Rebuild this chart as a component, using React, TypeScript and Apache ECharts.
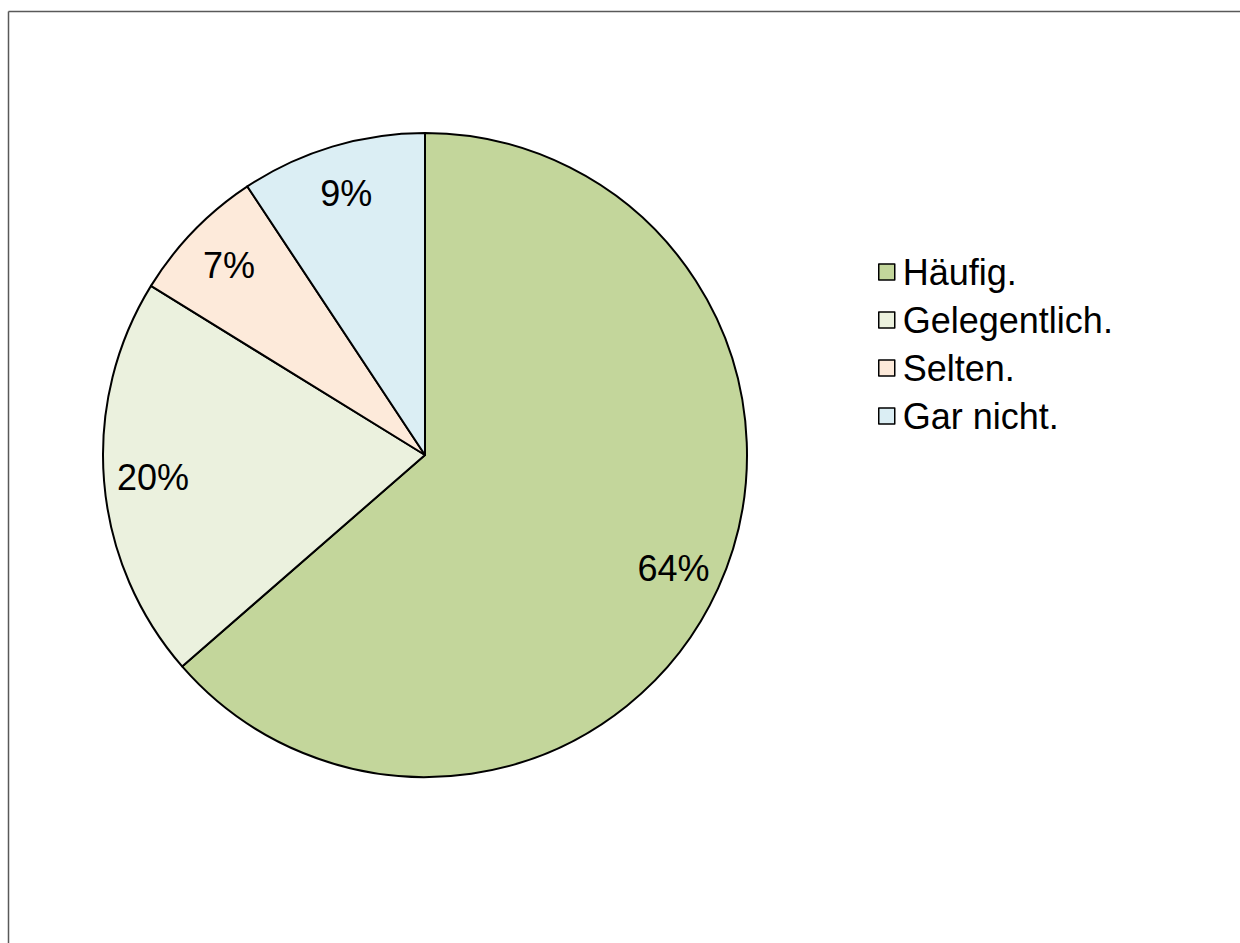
import React, { useEffect, useRef } from "react";
import * as echarts from "echarts";

const categories = ["Häufig.", "Gelegentlich.", "Selten.", "Gar nicht."];
const values = [63.6, 20.2, 6.9, 9.3];
const colors = ["#C3D69B", "#EBF1DE", "#FDEADA", "#DBEEF4"];

const FONT = '"Liberation Sans", Arial, sans-serif';

export default function App() {
  const ref = useRef<HTMLDivElement>(null);
  useEffect(() => {
    document.body.style.margin = "0";
    if (!ref.current) return;
    const chart = echarts.init(ref.current, null, { renderer: "svg" });
    const data = categories.map((name, i) => ({
      name,
      value: values[i],
      itemStyle: { color: colors[i] },
    }));
    const total = values.reduce((a, b) => a + b, 0);
    chart.setOption({
      animation: false,
      backgroundColor: "#ffffff",
      graphic: [
        {
          type: "line",
          shape: { x1: 8.5, y1: 11.5, x2: 1240, y2: 11.5 },
          style: { stroke: "#595959", lineWidth: 1.5 },
          silent: true,
        },
        {
          type: "line",
          shape: { x1: 8.5, y1: 11.5, x2: 8.5, y2: 943 },
          style: { stroke: "#595959", lineWidth: 1.5 },
          silent: true,
        },
      ],
      legend: {
        orient: "vertical",
        left: 873,
        top: 249,
        icon: "rect",
        itemWidth: 16,
        itemHeight: 16,
        itemGap: 12,
        data: categories,
        itemStyle: { borderColor: "#000", borderWidth: 1.5 },
        textStyle: {
          fontFamily: FONT,
          fontSize: 36,
          lineHeight: 36,
          color: "#000",
          padding: [0, 0, 0, 3],
        },
      },
      series: [
        {
          type: "pie",
          center: [425, 455],
          radius: [0, 322],
          startAngle: 90,
          clockwise: true,
          silent: true,
          itemStyle: { borderColor: "#000", borderWidth: 2 },
          label: { show: false },
          labelLine: { show: false },
          data,
        },
        {
          type: "pie",
          center: [425, 455],
          radius: [218, 322],
          startAngle: 90,
          clockwise: true,
          silent: true,
          itemStyle: { color: "rgba(0,0,0,0)", borderWidth: 0 },
          label: {
            show: true,
            position: "inside",
            fontFamily: FONT,
            fontSize: 36,
            color: "#000",
            formatter: (p: any) => Math.round((p.value / total) * 100) + "%",
          },
          labelLine: { show: false },
          data: categories.map((name, i) => ({ name, value: values[i] })),
        },
      ],
    });
    return () => chart.dispose();
  }, []);
  return <div ref={ref} style={{ width: 1240, height: 943 }} />;
}
